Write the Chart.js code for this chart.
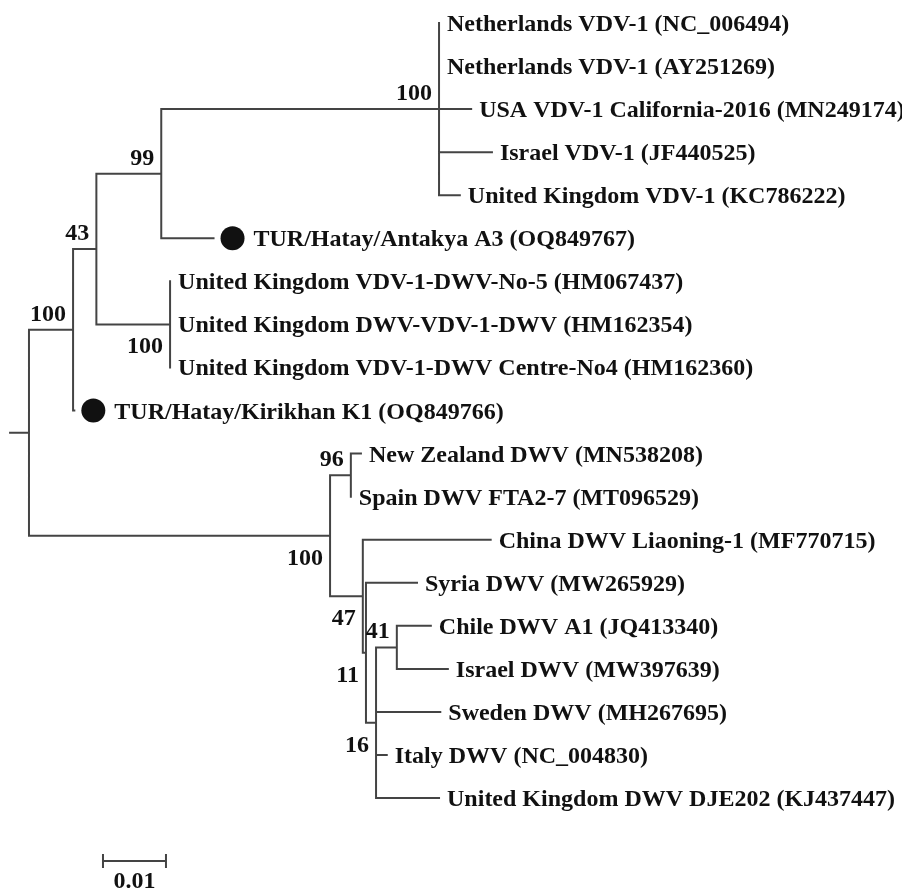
<!DOCTYPE html>
<html>
<head>
<meta charset="utf-8">
<title>VDV-1 / DWV phylogenetic tree</title>
<script src="https://cdn.jsdelivr.net/npm/chart.js@4.4.1/dist/chart.umd.min.js"></script>
<style>
  html, body { margin: 0; padding: 0; background: #fff; }
  #wrap { width: 902px; height: 892px; }
</style>
</head>
<body>
<div id="wrap"><canvas id="treeChart"></canvas></div>
<script>
// Tip labels, top to bottom (node ids 0-18)
const leafNames = [
  'Netherlands VDV-1 (NC_006494)',
  'Netherlands VDV-1 (AY251269)',
  'USA VDV-1 California-2016 (MN249174)',
  'Israel VDV-1 (JF440525)',
  'United Kingdom VDV-1 (KC786222)',
  'TUR/Hatay/Antakya A3 (OQ849767)',
  'United Kingdom VDV-1-DWV-No-5 (HM067437)',
  'United Kingdom DWV-VDV-1-DWV (HM162354)',
  'United Kingdom VDV-1-DWV Centre-No4 (HM162360)',
  'TUR/Hatay/Kirikhan K1 (OQ849766)',
  'New Zealand DWV (MN538208)',
  'Spain DWV FTA2-7 (MT096529)',
  'China DWV Liaoning-1 (MF770715)',
  'Syria DWV (MW265929)',
  'Chile DWV A1 (JQ413340)',
  'Israel DWV (MW397639)',
  'Sweden DWV (MH267695)',
  'Italy DWV (NC_004830)',
  'United Kingdom DWV DJE202 (KJ437447)'
];

// parent of each node: tips 0-18, then internal nodes 19-30 (19 = root)
const nodeParent = [
  23, 23, 23, 23, 23, 22, 24, 24, 24, 20, 26, 26, 27, 28, 30, 30, 29, 29, 29,
  -1, 19, 20, 21, 22, 21, 19, 25, 25, 27, 28, 29
];

// branch length to the parent (substitutions per site)
const branchLength = [
  0, 0, 0.0051, 0.0084, 0.0033, 0.0083, 0, 0, 0, 0.0002,
  0.0016, 0, 0.0203, 0.0081, 0.0054, 0.0081, 0.0102, 0.0017, 0.0100,
  0, 0.0070, 0.0037, 0.0103, 0.0441, 0.0117, 0.0478, 0.0033, 0.0052, 0.0005, 0.0016, 0.0033
];

// bootstrap support (%) on internal nodes
const bootNodes  = [23, 22, 21, 20, 24, 25, 26, 27, 30, 28, 29];
const bootValues = [100, 99, 43, 100, 100, 100, 96, 47, 41, 11, 16];

// isolates from this study, marked with a filled circle
const markedLeaves = [5, 9];

const scaleBarLength = 0.01;
const scaleBarLabel = '0.01';

// ---- layout helpers ----
const bootBelow = [false, false, false, false, true, true, false, true, false, true, true];
const rootStub = 0.003;
const scaleBarStart = 0.01175;
const scaleBarRow = 19.46;
const lineColor = '#444';
const textColor = '#111';
const labelFont = 'bold 24px "Liberation Serif", "Times New Roman", serif';

const nNodes = nodeParent.length;
const children = nodeParent.map(() => []);
nodeParent.forEach((p, n) => { if (p >= 0) children[p].push(n); });
const root = nodeParent.indexOf(-1);

// depth from root
const nodeDepth = new Array(nNodes).fill(0);
function setDepth(n, d) {
  nodeDepth[n] = d;
  children[n].forEach(c => setDepth(c, d + branchLength[c]));
}
setDepth(root, 0);

// vertical position: tips by order, internal nodes midway between outer children
const nodeRow = new Array(nNodes).fill(0);
function setRow(n) {
  if (!children[n].length) { nodeRow[n] = n; return n; }
  const rows = children[n].map(setRow);
  nodeRow[n] = (Math.min(...rows) + Math.max(...rows)) / 2;
  return nodeRow[n];
}
setRow(root);

// branches as one broken line
const branches = [];
for (let n = 0; n < nNodes; n++) {
  const p = nodeParent[n];
  if (p >= 0 && branchLength[n] > 0) {
    branches.push({x: nodeDepth[p], y: nodeRow[n]}, {x: nodeDepth[n], y: nodeRow[n]}, {x: null, y: null});
  }
  if (children[n].length) {
    const rows = children[n].map(c => nodeRow[c]);
    branches.push({x: nodeDepth[n], y: Math.min(...rows)}, {x: nodeDepth[n], y: Math.max(...rows)}, {x: null, y: null});
  }
}
branches.push({x: -rootStub, y: nodeRow[root]}, {x: 0, y: nodeRow[root]});

const scaleBar = [
  {x: scaleBarStart, y: scaleBarRow},
  {x: scaleBarStart + scaleBarLength, y: scaleBarRow}
];

const treeLabels = {
  id: 'treeLabels',
  afterDatasetsDraw(chart) {
    const {ctx, scales: {x, y}} = chart;
    ctx.save();
    ctx.font = labelFont;
    ctx.fillStyle = textColor;
    ctx.textBaseline = 'alphabetic';

    // tip labels and markers
    ctx.textAlign = 'left';
    leafNames.forEach((name, i) => {
      const px = x.getPixelForValue(nodeDepth[i]);
      const py = y.getPixelForValue(nodeRow[i]);
      let tx = px + 8;
      if (markedLeaves.includes(i)) {
        ctx.beginPath();
        ctx.arc(px + 19, py, 12, 0, Math.PI * 2);
        ctx.fill();
        tx = px + 40;
      }
      ctx.fillText(name, tx, py + 8);
    });

    // bootstrap values
    ctx.textAlign = 'right';
    bootNodes.forEach((n, k) => {
      const px = x.getPixelForValue(nodeDepth[n]);
      const py = y.getPixelForValue(nodeRow[n]);
      ctx.fillText(String(bootValues[k]), px - 7, bootBelow[k] ? py + 29 : py - 9);
    });

    // scale bar end ticks and label
    const x0 = x.getPixelForValue(scaleBarStart);
    const x1 = x.getPixelForValue(scaleBarStart + scaleBarLength);
    const sy = y.getPixelForValue(scaleBarRow);
    ctx.strokeStyle = lineColor;
    ctx.lineWidth = 2;
    ctx.beginPath();
    ctx.moveTo(x0, sy - 7); ctx.lineTo(x0, sy + 7);
    ctx.moveTo(x1, sy - 7); ctx.lineTo(x1, sy + 7);
    ctx.stroke();
    ctx.textAlign = 'center';
    ctx.fillText(scaleBarLabel, (x0 + x1) / 2, sy + 27);
    ctx.restore();
  }
};

new Chart(document.getElementById('treeChart'), {
  type: 'line',
  data: {
    datasets: [{
      data: branches,
      borderColor: lineColor,
      borderWidth: 2,
      borderCapStyle: 'square',
      borderJoinStyle: 'miter',
      pointRadius: 0,
      spanGaps: false,
      tension: 0
    }, {
      data: scaleBar,
      borderColor: lineColor,
      borderWidth: 2,
      pointRadius: 0
    }]
  },
  options: {
    responsive: true,
    maintainAspectRatio: false,
    animation: false,
    layout: { padding: 0 },
    plugins: {
      legend: { display: false },
      tooltip: { enabled: false }
    },
    scales: {
      x: { type: 'linear', display: false, min: -0.0046, max: 0.1386 },
      y: { type: 'linear', display: false, min: -0.534, max: 20.18, reverse: true }
    }
  },
  plugins: [treeLabels]
});
</script>
</body>
</html>
